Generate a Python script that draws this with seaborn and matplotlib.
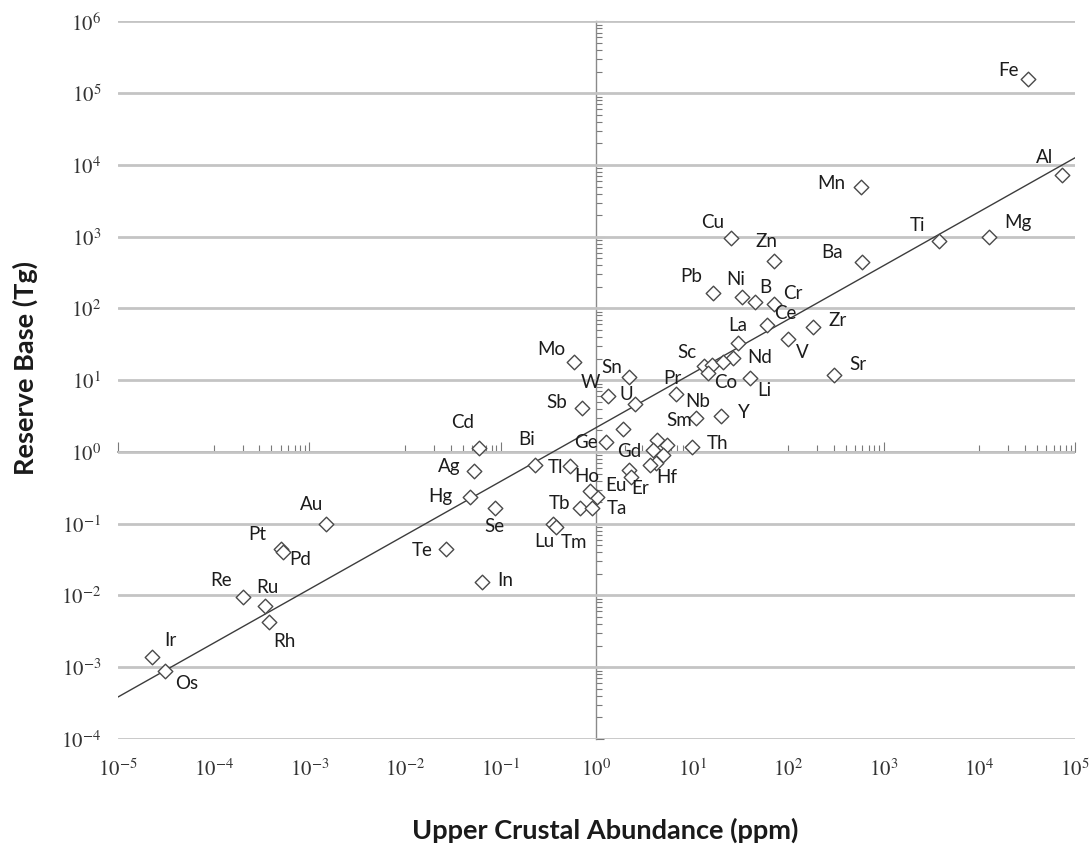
import numpy as np
import pandas as pd
import matplotlib
matplotlib.use("Agg")
import matplotlib.pyplot as plt
import seaborn as sns
from matplotlib.ticker import FixedLocator, NullFormatter, NullLocator

# ---------------- data ----------------
elements = ["Fe", "Al", "Mn", "Ti", "Mg", "Ba", "Cu", "Zn", "Pb", "Ni", "B", "Cr",
            "Ce", "La", "Zr", "V", "Nd", "Sc", "", "", "Co", "Li", "Sr", "Pr", "Nb",
            "Y", "Sm", "Gd", "", "", "", "Hf", "Th", "Er", "", "Eu", "Ho", "Tb", "Ta",
            "Lu", "Tm", "Te", "In", "Se", "Hg", "Ag", "Cd", "Bi", "Tl", "Mo", "Sn",
            "W", "U", "Sb", "Ge", "", "Au", "Pt", "Pd", "Re", "Ru", "Rh", "Ir", "Os"]
abundance_ppm = [3.2e4, 7.4e4, 575, 3800, 1.25e4, 600, 25.7, 72, 16.3, 33, 45, 71,
                 61, 30, 181, 101, 26.5, 13.4, 16, 21, 14.5, 40, 300, 6.7, 11,
                 20, 4.3, 3.85, 5.4, 4.9, 4.2, 3.58, 10, 2.2, 2.3, 1.02, 0.85, 0.68, 0.89,
                 0.35, 0.38, 0.027, 0.064, 0.088, 0.048, 0.052, 0.059, 0.225, 0.53, 0.575, 2.16,
                 1.33, 2.5, 0.71, 1.27, 1.87, 1.5e-3, 5.0e-4, 5.3e-4, 2.0e-4, 3.4e-4, 3.8e-4, 2.24e-5, 3.1e-5]
reserve_tg = [1.6e5, 7.2e3, 4.9e3, 870, 1000, 445, 960, 460, 165, 145, 123, 115,
              59, 33, 55, 37.6, 20.4, 15.7, 16.3, 18, 12.6, 10.7, 11.8, 6.4, 3.0,
              3.2, 1.47, 1.07, 1.25, 0.91, 0.70, 0.66, 1.17, 0.56, 0.45, 0.236, 0.29, 0.166, 0.166,
              0.10, 0.09, 0.044, 0.0155, 0.166, 0.236, 0.54, 1.14, 0.66, 0.64, 18, 11.1,
              6.0, 4.7, 4.1, 1.38, 2.1, 0.10, 0.044, 0.041, 0.0095, 0.0071, 0.0043, 0.00139, 0.00089]

trend_x = [1e-5, 1e5]
trend_y = [3.85e-4, 1.26e4]

x_tick_exponents = list(range(-5, 6))
y_tick_exponents = list(range(-4, 7))

# ---------------- label placement (styling) ----------------
label_offsets = {
    "Fe": (-19, 8), "Al": (-18, 18), "Mn": (-29, 4), "Ti": (-22, 16), "Mg": (29, 14),
    "Ba": (-30, 9), "Cu": (-19, 16), "Zn": (-8, 19), "Pb": (-21, 16), "Ni": (-6, 17),
    "B": (11, 15), "Cr": (19, 11), "Ce": (18, 11), "La": (0, 18), "Zr": (25, 7),
    "V": (14, -14), "Nd": (27, 1), "Sc": (-17, 14), "Co": (18, -9), "Li": (14, -12),
    "Sr": (24, 11), "Pr": (-3, 16), "Nb": (2, 16), "Y": (23, 3), "Sm": (22, 19),
    "Gd": (-23, -2), "Hf": (17, -13), "Th": (25, 4), "Er": (11, -18), "Eu": (19, 11),
    "Ho": (-3, 14), "Tb": (-21, 4), "Ta": (25, -1), "Lu": (-9, -18), "Tm": (18, -15),
    "Te": (-24, -1), "In": (23, 1), "Se": (-1, -19), "Hg": (-30, 0), "Ag": (-24, 5),
    "Cd": (-16, 25), "Bi": (-8, 25), "Tl": (-15, -2), "Mo": (-22, 12), "Sn": (-17, 9),
    "W": (-18, 14), "U": (-8, 9), "Sb": (-26, 6), "Ge": (-20, -1), "Au": (-15, 19),
    "Pt": (-23, 15), "Pd": (17, -8), "Re": (-21, 17), "Ru": (3, 19), "Rh": (15, -20),
    "Ir": (19, 16), "Os": (22, -13),
}

df = pd.DataFrame({"element": elements, "abundance": abundance_ppm, "reserve": reserve_tg})
trend = pd.DataFrame({"x": trend_x, "y": trend_y})

sns.set_style("white")
plt.rcParams["font.family"] = ["Lato", "DejaVu Sans"]
plt.rcParams["mathtext.fontset"] = "stix"

fig = plt.figure(figsize=(10.89, 8.47), dpi=100)
ax = fig.add_axes([0.10836, 0.12751, 0.87878, 0.84711])
ax.set_xscale("log")
ax.set_yscale("log")
ax.set_xlim(10.0 ** x_tick_exponents[0], 10.0 ** x_tick_exponents[-1])
ax.set_ylim(10.0 ** y_tick_exponents[0], 10.0 ** y_tick_exponents[-1])

for s in ax.spines.values():
    s.set_visible(False)

# horizontal gridlines
ax.set_yticks([10.0 ** k for k in y_tick_exponents])
ax.set_yticklabels([rf"$10^{{{k}}}$" for k in y_tick_exponents])
ax.set_xticks([10.0 ** k for k in x_tick_exponents])
ax.set_xticklabels([rf"$10^{{{k}}}$" for k in x_tick_exponents])
ax.yaxis.set_minor_locator(NullLocator())
ax.xaxis.set_minor_locator(NullLocator())
ax.grid(axis="y", which="major", color="#c4c4c4", linewidth=2.0, zorder=0)
ax.grid(axis="x", visible=False)
ax.tick_params(axis="both", which="both", length=0, labelsize=15, colors="#333333")
ax.tick_params(axis="y", pad=12)
ax.tick_params(axis="x", pad=14)

# crossing axes (Excel style) at x=1 and y=1
sx = ax.secondary_xaxis(0.4)
sx.xaxis.set_major_locator(FixedLocator([10.0 ** k for k in range(-5, 6, 2)]))
sx.xaxis.set_minor_locator(FixedLocator([m * 10.0 ** k for k in (-4, -2, 0, 2, 4) for m in range(1, 10)]))
sx.xaxis.set_major_formatter(NullFormatter())
sx.xaxis.set_minor_formatter(NullFormatter())
sx.tick_params(which="major", direction="in", length=7, width=0.8, color="#7a7a7a")
sx.tick_params(which="minor", direction="in", length=5, width=0.8, color="#7a7a7a")
for s in sx.spines.values():
    s.set_color("#8a8a8a")
    s.set_linewidth(1.2)

sy = ax.secondary_yaxis(0.5)
sy.yaxis.set_major_locator(FixedLocator([10.0 ** k for k in y_tick_exponents]))
sy.yaxis.set_minor_locator(FixedLocator([m * 10.0 ** k for k in range(-4, 6) for m in range(2, 10)]))
sy.yaxis.set_major_formatter(NullFormatter())
sy.yaxis.set_minor_formatter(NullFormatter())
sy.tick_params(which="major", direction="out", length=6, width=0.8, color="#7a7a7a")
sy.tick_params(which="minor", direction="out", length=4, width=0.8, color="#7a7a7a")
for s in sy.spines.values():
    s.set_color("#8a8a8a")
    s.set_linewidth(1.0)

# trend line
sns.lineplot(data=trend, x="x", y="y", ax=ax, color="#3c3c3c", linewidth=1.0, zorder=2)

# points
sns.scatterplot(data=df, x="abundance", y="reserve", ax=ax, marker="D", s=55,
                color="white", edgecolor="#4a4a4a", linewidth=1.0, zorder=3)

for name, xv, yv in zip(elements, abundance_ppm, reserve_tg):
    if not name:
        continue
    dx, dy = label_offsets.get(name, (15, 10))
    ax.annotate(name, (xv, yv), xytext=(dx, dy), textcoords="offset pixels",
                ha="center", va="center", fontsize=13.5, color="#1c1c1c", zorder=4)

ax.set_xlabel("Upper Crustal Abundance (ppm)", fontsize=19.5, fontweight="bold", color="#1a1a1a")
ax.set_ylabel("Reserve Base (Tg)", fontsize=19.5, fontweight="bold", color="#1a1a1a")
ax.xaxis.set_label_coords(0.509, -0.127)
ax.xaxis.label.set_va("center")
ax.yaxis.set_label_coords(-0.097, 0.517)
ax.yaxis.label.set_va("center")

fig.savefig("out.png", dpi=100)
